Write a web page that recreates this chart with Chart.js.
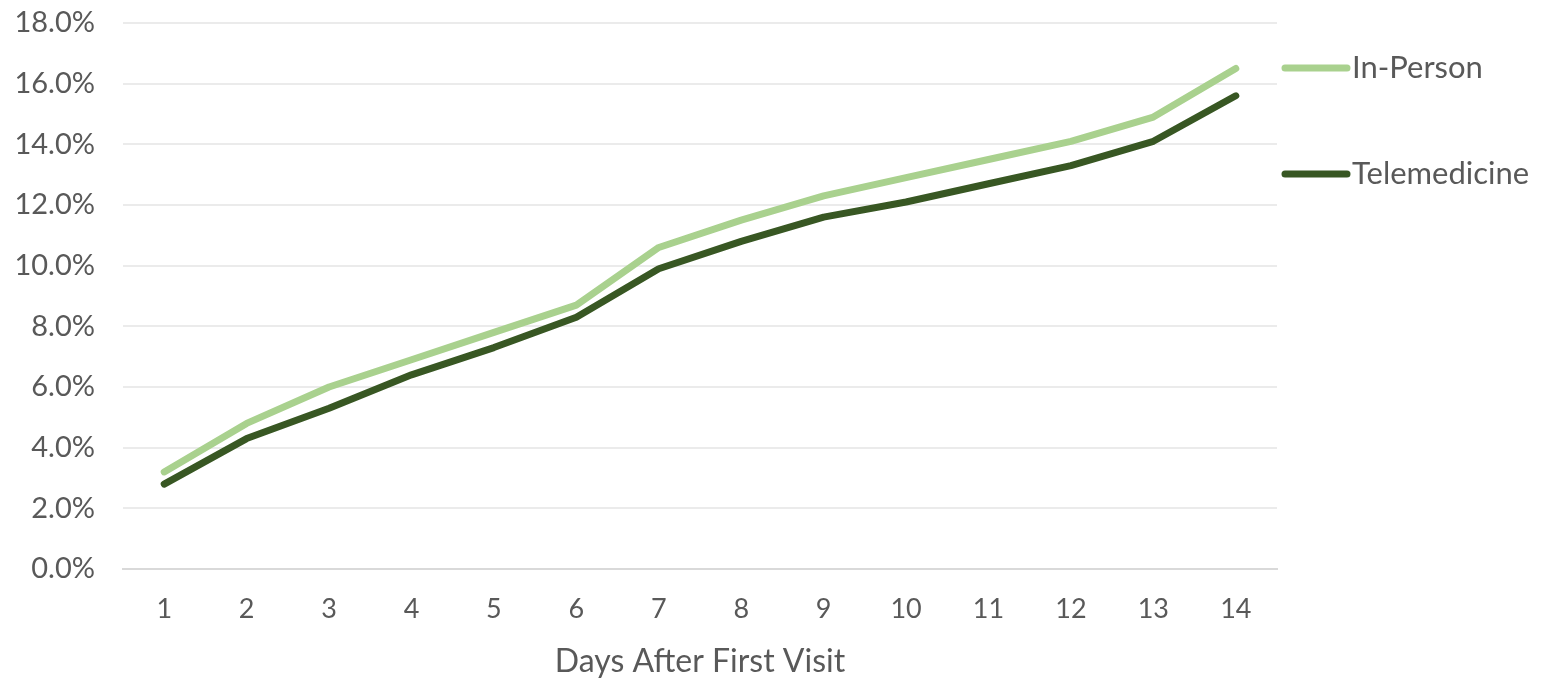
<!DOCTYPE html>
<html>
<head>
<meta charset="utf-8">
<title>Days After First Visit</title>
<script src="https://cdn.jsdelivr.net/npm/chart.js@4.4.1/dist/chart.umd.min.js"></script>
<style>
  html, body { margin: 0; padding: 0; background: #ffffff; }
  #wrap { width: 1552px; height: 681px; position: relative; }
</style>
</head>
<body>
<div id="wrap"><canvas id="chart" width="1552" height="681"></canvas></div>
<script>
// Days after the first visit
const days = ['1', '2', '3', '4', '5', '6', '7', '8', '9', '10', '11', '12', '13', '14'];

// Cumulative share (%) by visit type
const inPerson     = [3.2, 4.8, 6.0, 6.9, 7.8, 8.7, 10.6, 11.5, 12.3, 12.9, 13.5, 14.1, 14.9, 16.5];
const telemedicine = [2.8, 4.3, 5.3, 6.4, 7.3, 8.3, 9.9, 10.8, 11.6, 12.1, 12.7, 13.3, 14.1, 15.6];

// Y axis range and step (%)
const yMin = 0;
const yMax = 18;
const yStep = 2;

const seriesNames = ['In-Person', 'Telemedicine'];
const seriesColors = ['#A9D18E', '#385723'];

const FONT = 'Lato, "Open Sans", "DejaVu Sans", sans-serif';
const TEXT = '#595959';

// Legend drawn to the right of the plot: a thick line swatch then the label
const sideLegend = {
  id: 'sideLegend',
  afterDraw(chart) {
    const { ctx, chartArea } = chart;
    const offsets = [45, 151];
    ctx.save();
    chart.data.datasets.forEach((ds, i) => {
      const y = chartArea.top + offsets[i];
      const x0 = chartArea.right + 8;
      ctx.strokeStyle = ds.borderColor;
      ctx.lineWidth = ds.borderWidth;
      ctx.lineCap = 'round';
      ctx.beginPath();
      ctx.moveTo(x0, y);
      ctx.lineTo(x0 + 62, y);
      ctx.stroke();
      ctx.fillStyle = TEXT;
      ctx.font = '31px ' + FONT;
      ctx.textBaseline = 'middle';
      ctx.textAlign = 'left';
      ctx.fillText(ds.label, x0 + 67, y);
    });
    ctx.restore();
  }
};

new Chart(document.getElementById('chart'), {
  type: 'line',
  data: {
    labels: days,
    datasets: [
      {
        label: seriesNames[0],
        data: inPerson,
        borderColor: seriesColors[0],
        backgroundColor: seriesColors[0],
        borderWidth: 7,
        borderCapStyle: 'round',
        borderJoinStyle: 'round',
        pointRadius: 0,
        tension: 0,
        fill: false
      },
      {
        label: seriesNames[1],
        data: telemedicine,
        borderColor: seriesColors[1],
        backgroundColor: seriesColors[1],
        borderWidth: 7,
        borderCapStyle: 'round',
        borderJoinStyle: 'round',
        pointRadius: 0,
        tension: 0,
        fill: false
      }
    ]
  },
  options: {
    responsive: false,
    animation: false,
    devicePixelRatio: 1,
    layout: { padding: { top: 23, right: 275, left: 0, bottom: 0 } },
    plugins: {
      legend: { display: false },
      tooltip: { enabled: false }
    },
    scales: {
      x: {
        offset: true,
        grid: { display: false, drawTicks: false },
        border: { display: true, color: '#d9d9d9', width: 2 },
        ticks: {
          color: TEXT,
          font: { family: FONT, size: 27 },
          padding: 24,
          maxRotation: 0
        },
        title: {
          display: true,
          text: 'Days After First Visit',
          color: TEXT,
          font: { family: FONT, size: 32 },
          padding: { top: 0, bottom: 0 }
        },
        afterFit(scale) { scale.height = 112; }
      },
      y: {
        min: yMin,
        max: yMax,
        ticks: {
          stepSize: yStep,
          color: TEXT,
          font: { family: FONT, size: 29 },
          padding: 28,
          callback: (v) => v.toFixed(1) + '%'
        },
        grid: {
          color: (c) => c.tick && c.tick.value === 0 ? '#d9d9d9' : '#ebebeb',
          lineWidth: 2,
          drawTicks: false
        },
        border: { display: false },
        afterFit(scale) {
          scale.width = 123;
          scale.paddingTop = 0;
          scale.paddingBottom = 0;
        }
      }
    }
  },
  plugins: [sideLegend]
});
</script>
</body>
</html>
